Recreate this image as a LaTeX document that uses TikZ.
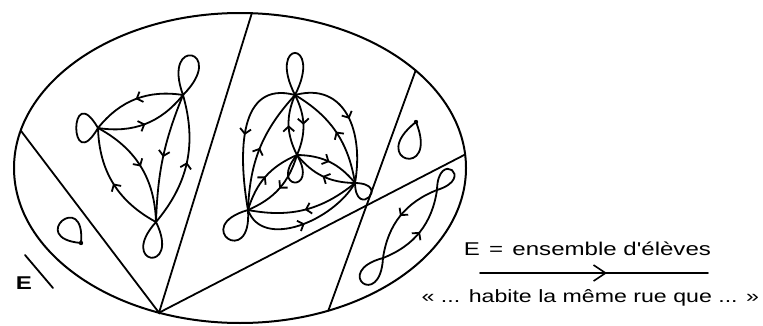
\documentclass[tikz,border=0pt]{standalone}
\usepackage{fontspec}
\newfontfamily\lab[FakeStretch=1.3]{Liberation Sans}
\usetikzlibrary{calc,arrows.meta,decorations.markings}

\begin{document}
\begin{tikzpicture}[x=1pt,y=1pt,line width=1.8pt,line cap=round,
  fl/.style={postaction={decorate},decoration={markings,
    mark=at position #1 with {\arrow{Straight Barb[length=5pt,width=11pt]}}}},
  fl/.default=0.5,
  bigfl/.style={postaction={decorate},decoration={markings,
    mark=at position #1 with {\arrow{Straight Barb[length=12pt,width=16pt]}}}},
  txt/.style={font=\lab\fontsize{18.5}{20}\selectfont,inner sep=0pt}]
  \useasboundingbox (0,0) rectangle (763,325);
  \coordinate (O) at (240,157);
  \draw[line width=2pt] (O) ellipse [x radius=226,y radius=155];
  \coordinate (c0) at ($(O)+(249:226 and 155)$);
  \coordinate (c1) at ($(O)+(166:226 and 155)$);
  \coordinate (c2) at ($(O)+(87:226 and 155)$);
  \coordinate (c3) at ($(O)+(5:226 and 155)$);
  \coordinate (c4) at ($(O)+(39:226 and 155)$);
  \coordinate (c5) at ($(O)+(293:226 and 155)$);
  \draw (c1) -- (c0) -- (c2);
  \draw (c0) -- (c3);
  \draw (c4) -- (c5);
  \coordinate (u0) at (81,82);
  \coordinate (vA) at (98,197);
  \coordinate (vB) at (183,230);
  \coordinate (vC) at (156,103);
  \coordinate (wT) at (295,230);
  \coordinate (wM) at (297,170);
  \coordinate (wR) at (355,142);
  \coordinate (wL) at (248,115);
  \coordinate (x0) at (416,203);
  \coordinate (yU) at (437,135);
  \coordinate (yD) at (383,67);
  \draw (u0) to[out=85,in=175,min distance=55] (u0);
  \fill (u0) circle (2.2);
  \draw (vA) to[out=120,in=240,min distance=58] (vA);
  \draw (vB) to[out=45,in=110,min distance=64] (vB);
  \draw (vC) to[out=228,in=296,min distance=58] (vC);
  \draw[fl] (vA) to[bend right=30] (vB);
  \draw[fl] (vB) to[bend right=30] (vA);
  \draw[fl] (vA) to[bend left=30] (vC);
  \draw[fl] (vC) to[bend left=30] (vA);
  \draw[fl] (vB) to[bend right=10] (vC);
  \draw[fl] (vC) to[bend right=28] (vB);
  \draw (wT) to[out=63,in=117,min distance=63] (wT);
  \draw (wM) to[out=230,in=300,min distance=45] (wM);
  \draw (wR) to[out=271,in=359,min distance=37] (wR);
  \draw (wL) to[out=196,in=274,min distance=60] (wL);
  \draw[fl] (wT) to[out=15,in=80,looseness=1.25] (wR);
  \draw[fl] (wR) to[bend right=25] (wT);
  \draw[fl] (wT) to[out=165,in=100,looseness=1.2] (wL);
  \draw[fl] (wL) to[bend left=20] (wT);
  \draw[fl] (wT) to[bend left=25] (wM);
  \draw[fl] (wM) to[bend left=25] (wT);
  \draw[fl] (wM) to[bend left=25] (wR);
  \draw[fl] (wR) to[bend left=25] (wM);
  \draw[fl] (wL) to[bend left=25] (wM);
  \draw[fl] (wM) to[bend left=25] (wL);
  \draw[fl] (wR) to[bend left=25] (wL);
  \draw[fl] (wL) to[out=-70,in=-120] (wR);
  \draw (x0) to[out=218,in=292,min distance=63] (x0);
  \fill (x0) circle (2.2);
  \draw (yU) to[out=17,in=89,min distance=41] (yU);
  \draw (yD) to[out=195,in=267,min distance=53] (yD);
  \draw[fl] (yU) to[bend right=30] (yD);
  \draw[fl] (yD) to[bend right=30] (yU);
  \node[txt,font=\lab\bfseries\fontsize{18.5}{20}\selectfont] (nmE) at (24,41.5) {E};
  \coordinate (t1) at (25,70);
  \coordinate (t2) at (53,37);
  \draw (t1) -- (t2);
  \node[txt,anchor=base west] (def) at (463,70) {E\enspace=\enspace ensemble d'élèves};
  \coordinate (k1) at (480,52);
  \coordinate (k2) at (708,52);
  \draw[line width=1.6pt,bigfl=0.557] (k1) -- (k2);
  \node[txt,font=\lab\fontsize{17.8}{20}\selectfont,anchor=base east] (rel) at (760,23) {« ... habite la même rue que ... »};
\end{tikzpicture}
\end{document}
